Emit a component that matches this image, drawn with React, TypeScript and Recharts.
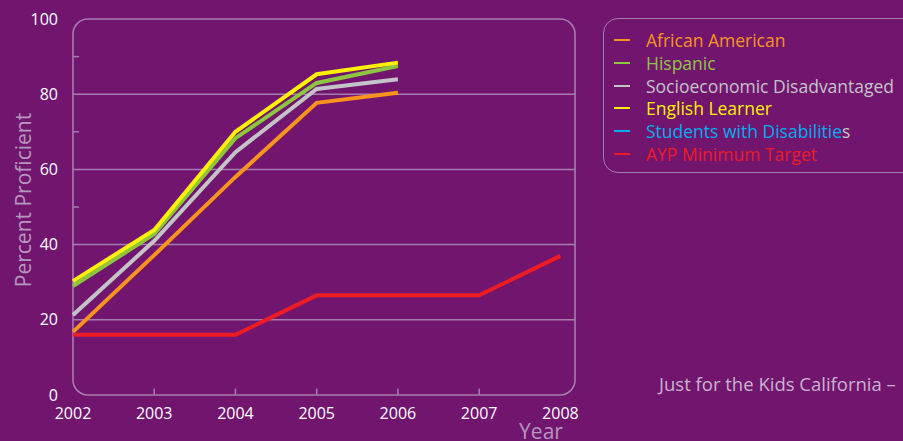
import React from "react";
import { LineChart, Line, XAxis, YAxis, CartesianGrid, ReferenceArea, ReferenceLine } from "recharts";

// values (percent proficient)
const years = [2002, 2003, 2004, 2005, 2006, 2007, 2008];
const africanAmerican = [16.8, 37.2, 58, 77.7, 80.4];
const hispanic = [29, 42.8, 68.3, 83, 87.5];
const socioeconomic = [21.3, 41, 64.6, 81.4, 84];
const englishLearner = [30.3, 43.9, 70, 85.3, 88.4];
const disabilities: number[] = [];
const aypTarget = [16, 16, 16, 26.5, 26.5, 26.5, 37];

const yTicks = [0, 20, 40, 60, 80, 100];
const gridValues = [20, 40, 60, 80];
const minorYTicks = [30, 50, 70, 90];
const innerXTicks = [2003, 2004, 2005, 2006, 2007];

const BG = "#72156F";
const FRAME = "#A57CAD";
const LABEL = "#B596BE";

const series = [
  { key: "aa", name: "African American", color: "#F7941D" },
  { key: "hisp", name: "Hispanic", color: "#8DC63F" },
  { key: "ses", name: "Socioeconomic Disadvantaged", color: "#C4C4C8" },
  { key: "el", name: "English Learner", color: "#FFF200" },
  { key: "swd", name: "Students with Disabilities", color: "#00AEEF" },
  { key: "ayp", name: "AYP Minimum Target", color: "#ED1C24" },
];

const data = years.map((year, i) => ({
  year,
  aa: africanAmerican[i],
  hisp: hispanic[i],
  ses: socioeconomic[i],
  el: englishLearner[i],
  swd: disabilities[i],
  ayp: aypTarget[i],
}));

const X_MAX = 2008.18;

function Frame(props: any) {
  const { x, y, width, height } = props;
  return <rect x={x} y={y} width={width} height={height} rx={15} ry={15} fill="none" stroke={FRAME} strokeWidth={1.6} />;
}

export default function App() {
  const drawOrder = ["ses", "aa", "hisp", "el", "swd", "ayp"];
  return (
    <div
      style={{
        position: "absolute",
        top: 0,
        left: 0,
        width: 903,
        height: 441,
        overflow: "hidden",
        background: BG,
        fontFamily: "'Open Sans', sans-serif",
      }}
    >
      <LineChart width={903} height={441} data={data} margin={{ top: 19, right: 328, bottom: 16, left: 0 }}>
        <CartesianGrid horizontal vertical={false} horizontalValues={gridValues} stroke={FRAME} strokeWidth={1.5} />
        <XAxis
          dataKey="year"
          type="number"
          domain={[2002, X_MAX]}
          ticks={years}
          axisLine={false}
          tickLine={false}
          tickSize={0}
          tickMargin={13}
          height={30}
          tick={{ fill: "#FFFFFF", fontSize: 16 }}
          label={{
            content: () => (
              <text x={541} y={439} textAnchor="middle" fill={LABEL} fontSize={21}>
                Year
              </text>
            ),
          }}
        />
        <YAxis
          type="number"
          domain={[0, 100]}
          ticks={yTicks}
          axisLine={false}
          tickLine={false}
          tickSize={0}
          tickMargin={15}
          width={73}
          tick={{ fill: "#FFFFFF", fontSize: 16 }}
          label={{
            content: () => (
              <text x={31} y={200} transform="rotate(-90 31 200)" textAnchor="middle" fill={LABEL} fontSize={21}>
                Percent Proficient
              </text>
            ),
          }}
        />
        {minorYTicks.map((v) => (
          <ReferenceLine
            key={`my-${v}`}
            segment={[
              { x: 2002, y: v },
              { x: 2002.075, y: v },
            ]}
            stroke={FRAME}
            strokeWidth={1.5}
          />
        ))}
        {innerXTicks.map((v) => (
          <ReferenceLine
            key={`mx-${v}`}
            segment={[
              { x: v, y: 0 },
              { x: v, y: 1.7 },
            ]}
            stroke={FRAME}
            strokeWidth={1.5}
          />
        ))}
        <ReferenceArea x1={2002} x2={X_MAX} y1={0} y2={100} ifOverflow="visible" shape={Frame} />
        {drawOrder.map((k) => {
          const s = series.find((d) => d.key === k)!;
          return (
            <Line
              key={k}
              type="linear"
              dataKey={k}
              name={s.name}
              stroke={s.color}
              strokeWidth={4}
              dot={false}
              activeDot={false}
              isAnimationActive={false}
            />
          );
        })}
      </LineChart>

      <div
        style={{
          position: "absolute",
          left: 603,
          top: 18,
          width: 330,
          height: 153,
          border: `1.6px solid ${FRAME}`,
          borderRadius: 15,
        }}
      />
      {series.map((s, i) => (
        <div
          key={s.key}
          style={{
            position: "absolute",
            left: 614,
            top: 40 + i * 22.8 - 12,
            height: 24,
            display: "flex",
            alignItems: "center",
            whiteSpace: "nowrap",
            fontSize: 17.5,
            color: s.color,
          }}
        >
          <span style={{ display: "inline-block", width: 16, height: 2, background: s.color, marginRight: 16 }} />
          {s.key === "swd" ? (
            <span>
              Students with Disabilitie<span style={{ color: "#C4C4C8" }}>s</span>
            </span>
          ) : (
            <span>{s.name}</span>
          )}
        </div>
      ))}
      <div
        style={{
          position: "absolute",
          left: 659,
          top: 371,
          whiteSpace: "nowrap",
          fontSize: 18.5,
          color: "#C9B3CD",
        }}
      >
        Just for the Kids California –
      </div>
    </div>
  );
}
